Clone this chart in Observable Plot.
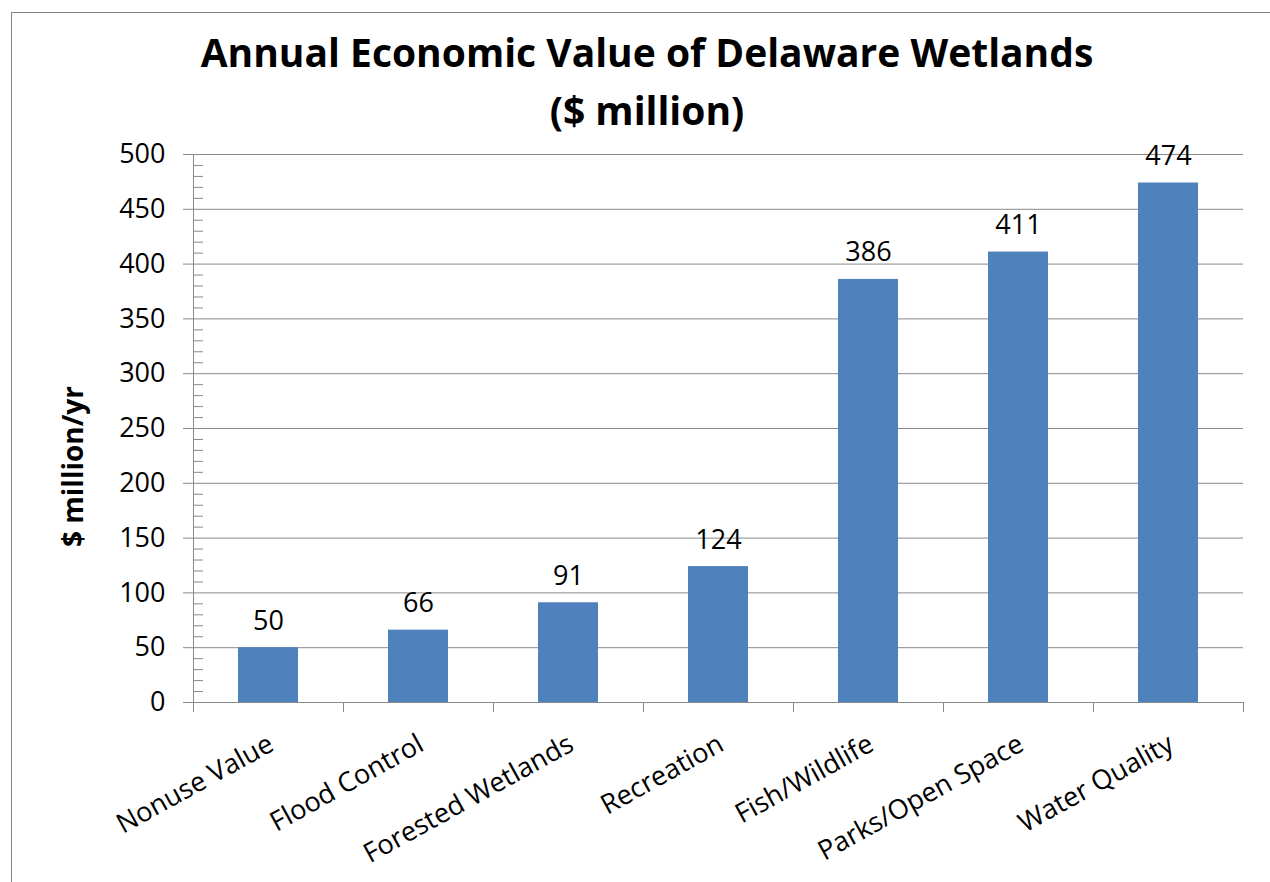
<!DOCTYPE html>
<html>
<head>
<meta charset="utf-8">
<script src="https://cdn.jsdelivr.net/npm/d3@7"></script>
<script src="https://cdn.jsdelivr.net/npm/@observablehq/plot@0.6"></script>
<style>
  html, body { margin: 0; padding: 0; background: #fff; overflow: hidden; }
  #page { position: relative; width: 1270px; height: 882px; font-family: "Open Sans", sans-serif; }
  #title { position: absolute; left: 0; top: 0; width: 1270px; padding-left: 24px; padding-top: 23px; box-sizing: border-box;
           text-align: center; font-weight: 700; font-size: 39px; line-height: 58px; color: #000; }
  #chart { position: absolute; left: 0; top: 140px; }
  #border { position: absolute; left: 11px; top: 12px; right: 0; bottom: 0;
            border-top: 1px solid #858585; border-left: 1px solid #858585; pointer-events: none; }
</style>
</head>
<body>
<div id="page">
  <div id="title">Annual Economic Value of Delaware Wetlands<br>($ million)</div>
  <div id="chart"></div>
  <div id="border"></div>
</div>
<script>
const categories = ["Nonuse Value", "Flood Control", "Forested Wetlands", "Recreation", "Fish/Wildlife", "Parks/Open Space", "Water Quality"];
const values = [50, 66, 91, 124, 386, 411, 474];
const majorTicks = [0, 50, 100, 150, 200, 250, 300, 350, 400, 450, 500];
const minorTicks = d3.range(10, 500, 10).filter(v => v % 50 !== 0);
const yTitle = "$ million/yr";

const BAR = "#4F81BD";
const AXIS = "#898989";

const data = categories.map((c, i) => ({category: c, value: values[i]}));

function categoryAxis(index, scales, values, dimensions) {
  const x = scales.x, y = scales.y;
  const step = x(categories[1]) - x(categories[0]);
  const bw = typeof x.bandwidth === "function" ? x.bandwidth() : step * 0.4;
  const bounds = categories.map(c => x(c) + bw / 2 - step / 2);
  bounds.push(x(categories[categories.length - 1]) + bw / 2 + step / 2);
  const y0 = y(0), yTop = y(500);
  const g = d3.create("svg:g").attr("stroke", AXIS).attr("stroke-width", 1).attr("fill", "none");
  g.append("line").attr("x1", bounds[0] + 0.5).attr("x2", bounds[0] + 0.5).attr("y1", yTop).attr("y2", y0);
  g.selectAll(null).data(bounds).join("line")
    .attr("x1", d => Math.round(d) + 0.5).attr("x2", d => Math.round(d) + 0.5)
    .attr("y1", y0).attr("y2", y0 + 10);
  return g.node();
}

const chart = Plot.plot({
  width: 1270,
  height: 742,
  marginLeft: 193,
  marginRight: 27,
  marginTop: 14,
  marginBottom: 180,
  style: {fontFamily: "'Open Sans', sans-serif", color: "#000", background: "transparent", overflow: "visible"},
  x: {domain: categories, paddingInner: 0.6, paddingOuter: 0.3, axis: null},
  y: {domain: [0, 500]},
  marks: [
    Plot.gridY(majorTicks.filter(v => v > 0), {stroke: AXIS, strokeOpacity: 1}),
    Plot.barY(data, {x: "category", y: "value", fill: BAR}),
    Plot.ruleY([0], {stroke: AXIS}),
    categoryAxis,
    Plot.axisY(majorTicks, {tickSize: 10, tickPadding: 18, fontSize: 27, stroke: AXIS, fill: "#000", label: null, tickFormat: d => String(d)}),
    Plot.axisY(minorTicks, {tickSize: 10, dx: 10, stroke: AXIS, label: null, tickFormat: () => ""}),
    Plot.text(data, {x: "category", y: "value", text: d => String(d.value), dy: -18, lineAnchor: "bottom", fontSize: 27, fill: "#000"}),
    Plot.text(categories, {x: d => d, frameAnchor: "bottom", rotate: -29, textAnchor: "end", lineAnchor: "bottom", dx: 7, dy: 47, fontSize: 27, fill: "#000"}),
    Plot.text([yTitle], {frameAnchor: "left", rotate: -90, textAnchor: "middle", lineAnchor: "bottom", dx: -111, dy: 38, fontSize: 28, fontWeight: "bold", fill: "#000"})
  ]
});
document.getElementById("chart").appendChild(chart);
</script>
</body>
</html>
